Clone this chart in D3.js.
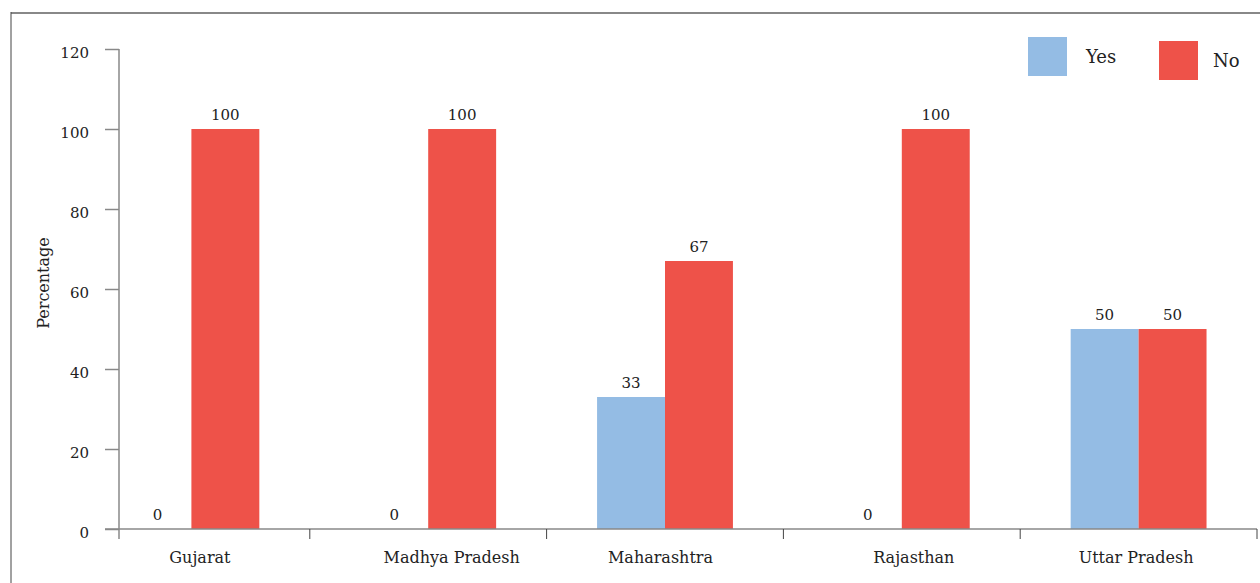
<!DOCTYPE html>
<html>
<head>
<meta charset="utf-8">
<script src="https://cdn.jsdelivr.net/npm/d3@7"></script>
<style>
  body { margin: 0; background: #fff; }
  svg { display: block; font-family: "DejaVu Serif", serif; }
</style>
</head>
<body>
<svg id="chart"></svg>
<script>
var states = ["Gujarat", "Madhya Pradesh", "Maharashtra", "Rajasthan", "Uttar Pradesh"]
var seriesNames = ["Yes", "No"]
var yesValues = [0, 0, 33, 0, 50]
var noValues = [100, 100, 67, 100, 50]
var yTicks = [0, 20, 40, 60, 80, 100, 120]
var colors = { Yes: "#94bce4", No: "#ee5249" }

var dimensions = {
  width: 1260,
  height: 583,
  plotLeft: 119,
  plotTop: 49,
  plotBottom: 529,
  bandStart: 73,
  bandEnd: 1257
}

// category labels in the original sit a little off the band centres
var labelNudge = [8.5, 23.5, -4.5, 12, -2.5]

var data = states.map(function (s, i) {
  return { state: s, Yes: yesValues[i], No: noValues[i] }
})

var svg = d3.select("#chart")
  .attr("width", dimensions.width)
  .attr("height", dimensions.height)

// frame
svg.append("line")
  .attr("x1", 11).attr("x2", dimensions.width)
  .attr("y1", 13).attr("y2", 13)
  .attr("stroke", "#888").attr("stroke-width", 2)
svg.append("line")
  .attr("x1", 11).attr("x2", 11)
  .attr("y1", 12).attr("y2", dimensions.height)
  .attr("stroke", "#444").attr("stroke-width", 1)

var xScale = d3.scaleBand()
  .domain(states)
  .range([dimensions.bandStart, dimensions.bandEnd])
  .padding(0)

var x1 = d3.scaleBand()
  .domain(seriesNames)
  .range([0, xScale.bandwidth()])
  .paddingInner(0)
  .paddingOuter(0.743)

var yScale = d3.scaleLinear()
  .domain([0, 120])
  .range([dimensions.plotBottom, dimensions.plotTop])

// bars
var groups = svg.append("g").selectAll("g")
  .data(data)
  .enter()
  .append("g")
  .attr("transform", function (d) { return "translate(" + xScale(d.state) + ",0)" })

groups.selectAll("rect")
  .data(function (d) { return seriesNames.map(function (k) { return { key: k, value: d[k] } }) })
  .enter()
  .append("rect")
  .attr("x", function (d) { return x1(d.key) })
  .attr("width", x1.bandwidth())
  .attr("y", function (d) { return yScale(d.value) })
  .attr("height", function (d) { return yScale(0) - yScale(d.value) })
  .attr("fill", function (d) { return colors[d.key] })

groups.selectAll("text")
  .data(function (d) { return seriesNames.map(function (k) { return { key: k, value: d[k] } }) })
  .enter()
  .append("text")
  .attr("x", function (d) { return x1(d.key) + x1.bandwidth() / 2 })
  .attr("y", function (d) { return yScale(d.value) - 9 })
  .attr("text-anchor", "middle")
  .attr("font-size", 15)
  .attr("fill", "#222")
  .text(function (d) { return d.value })

// y axis
var yAxis = d3.axisLeft(yScale)
  .tickValues(yTicks)
  .tickSize(14)
  .tickPadding(16)
  .tickSizeOuter(0)

var yAxisG = svg.append("g")
  .attr("transform", "translate(" + dimensions.plotLeft + ",0)")
  .call(yAxis)
yAxisG.select(".domain").remove()
yAxisG.selectAll("line").attr("stroke", "#888").attr("stroke-width", 1.5)
yAxisG.selectAll("text")
  .attr("font-family", "DejaVu Serif")
  .attr("font-size", 15)
  .attr("dy", "0.55em")
  .attr("fill", "#222")

svg.append("line")
  .attr("x1", dimensions.plotLeft).attr("x2", dimensions.plotLeft)
  .attr("y1", dimensions.plotTop).attr("y2", dimensions.plotBottom + 10)
  .attr("stroke", "#888").attr("stroke-width", 1.5)

// x axis
svg.append("line")
  .attr("x1", dimensions.plotLeft - 14).attr("x2", dimensions.bandEnd)
  .attr("y1", dimensions.plotBottom).attr("y2", dimensions.plotBottom)
  .attr("stroke", "#888").attr("stroke-width", 1.5)

svg.append("g").selectAll("line")
  .data(states)
  .enter()
  .append("line")
  .attr("x1", function (d) { return xScale(d) + xScale.bandwidth() })
  .attr("x2", function (d) { return xScale(d) + xScale.bandwidth() })
  .attr("y1", dimensions.plotBottom)
  .attr("y2", dimensions.plotBottom + 10)
  .attr("stroke", "#444").attr("stroke-width", 1)

svg.append("g").selectAll("text")
  .data(states)
  .enter()
  .append("text")
  .attr("x", function (d, i) { return xScale(d) + xScale.bandwidth() / 2 + labelNudge[i] })
  .attr("y", dimensions.plotBottom + 34)
  .attr("text-anchor", "middle")
  .attr("font-size", 16)
  .attr("fill", "#222")
  .text(function (d) { return d })

// y label
svg.append("text")
  .attr("transform", "translate(49,283) rotate(-90)")
  .attr("text-anchor", "middle")
  .attr("font-size", 16)
  .attr("fill", "#222")
  .text("Percentage")

// legend
var legendItems = [
  { key: "Yes", x: 1028, y: 37, tx: 1086 },
  { key: "No", x: 1159, y: 41, tx: 1213 }
]
var legend = svg.append("g").selectAll("g")
  .data(legendItems)
  .enter()
  .append("g")
legend.append("rect")
  .attr("x", function (d) { return d.x })
  .attr("y", function (d) { return d.y })
  .attr("width", 39).attr("height", 39)
  .attr("fill", function (d) { return colors[d.key] })
legend.append("text")
  .attr("x", function (d) { return d.tx })
  .attr("y", function (d) { return d.y + 26 })
  .attr("font-size", 18)
  .attr("fill", "#222")
  .text(function (d) { return d.key })
</script>
</body>
</html>
